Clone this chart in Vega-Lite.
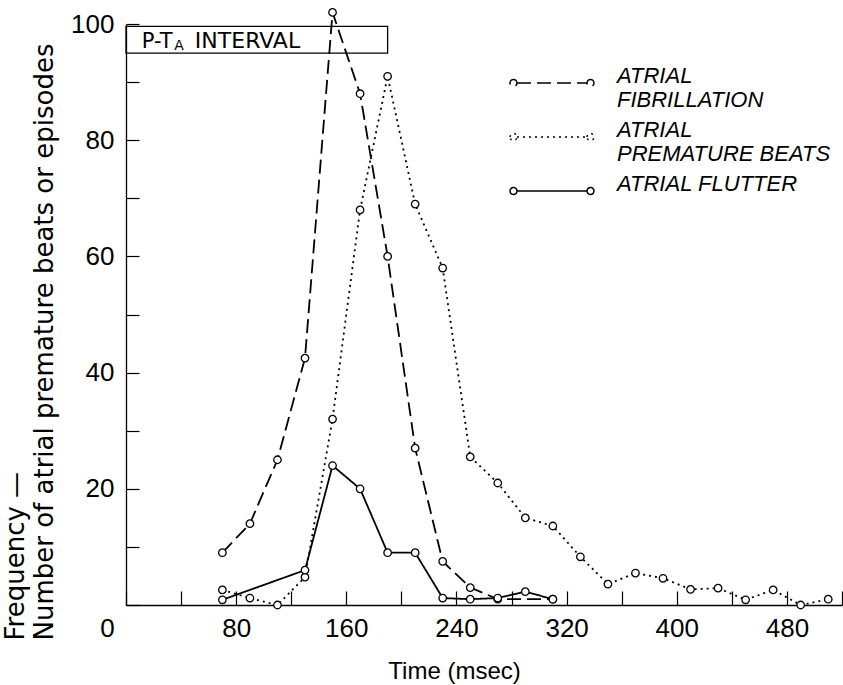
{
  "$schema": "https://vega.github.io/schema/vega-lite/v6.json",
  "width": 716,
  "height": 581,
  "autosize": {"type": "none"},
  "padding": {"left": 126, "top": 24, "right": 1, "bottom": 80},
  "background": "white",
  "config": {
    "view": {"stroke": null},
    "font": "Liberation Sans",
    "axisX": {
      "grid": false,
      "tickSize": -14,
      "tickColor": "black",
      "tickWidth": 1.2,
      "domainColor": "black",
      "domainWidth": 1.3,
      "labelFont": "Liberation Sans",
      "labelFontSize": 26,
      "labelColor": "black",
      "labelPadding": 24,
      "labelFlush": false,
      "labelOverlap": false,
      "titleFont": "Liberation Sans",
      "titleFontSize": 24,
      "titleFontWeight": "normal",
      "titleColor": "black",
      "titleX": 328,
      "titleY": 73,
      "titleBaseline": "alphabetic"
    },
    "axisY": {
      "grid": false,
      "tickSize": -13,
      "tickColor": "black",
      "tickWidth": 1.2,
      "domainColor": "black",
      "domainWidth": 1.3,
      "labelFont": "Liberation Sans",
      "labelFontSize": 26,
      "labelColor": "black",
      "labelPadding": 25,
      "labelFlush": false,
      "labelOverlap": false,
      "titleFont": "DejaVu Sans",
      "titleFontSize": 26,
      "titleFontWeight": "normal",
      "titleColor": "black",
      "titleLineHeight": 29,
      "titleAngle": -90,
      "titleAlign": "left",
      "titleBaseline": "top",
      "titleX": -124,
      "titleY": 616
    }
  },
  "datasets": {
    "curves": [
      {"series": "ATRIAL FIBRILLATION", "t": 70, "n": 9},
      {"series": "ATRIAL FIBRILLATION", "t": 90, "n": 14},
      {"series": "ATRIAL FIBRILLATION", "t": 110, "n": 25},
      {"series": "ATRIAL FIBRILLATION", "t": 130, "n": 42.5},
      {"series": "ATRIAL FIBRILLATION", "t": 150, "n": 102},
      {"series": "ATRIAL FIBRILLATION", "t": 170, "n": 88},
      {"series": "ATRIAL FIBRILLATION", "t": 190, "n": 60},
      {"series": "ATRIAL FIBRILLATION", "t": 210, "n": 27},
      {"series": "ATRIAL FIBRILLATION", "t": 230, "n": 7.5},
      {"series": "ATRIAL FIBRILLATION", "t": 250, "n": 3},
      {"series": "ATRIAL FIBRILLATION", "t": 270, "n": 1},
      {"series": "ATRIAL FIBRILLATION", "t": 310, "n": 1},
      {"series": "ATRIAL PREMATURE BEATS", "t": 70, "n": 2.6},
      {"series": "ATRIAL PREMATURE BEATS", "t": 90, "n": 1.2},
      {"series": "ATRIAL PREMATURE BEATS", "t": 110, "n": 0},
      {"series": "ATRIAL PREMATURE BEATS", "t": 130, "n": 4.8},
      {"series": "ATRIAL PREMATURE BEATS", "t": 150, "n": 32},
      {"series": "ATRIAL PREMATURE BEATS", "t": 170, "n": 68},
      {"series": "ATRIAL PREMATURE BEATS", "t": 190, "n": 91},
      {"series": "ATRIAL PREMATURE BEATS", "t": 210, "n": 69},
      {"series": "ATRIAL PREMATURE BEATS", "t": 230, "n": 58},
      {"series": "ATRIAL PREMATURE BEATS", "t": 250, "n": 25.5},
      {"series": "ATRIAL PREMATURE BEATS", "t": 270, "n": 21},
      {"series": "ATRIAL PREMATURE BEATS", "t": 290, "n": 15},
      {"series": "ATRIAL PREMATURE BEATS", "t": 310, "n": 13.6},
      {"series": "ATRIAL PREMATURE BEATS", "t": 330, "n": 8.3},
      {"series": "ATRIAL PREMATURE BEATS", "t": 350, "n": 3.6},
      {"series": "ATRIAL PREMATURE BEATS", "t": 370, "n": 5.5},
      {"series": "ATRIAL PREMATURE BEATS", "t": 390, "n": 4.6},
      {"series": "ATRIAL PREMATURE BEATS", "t": 410, "n": 2.7},
      {"series": "ATRIAL PREMATURE BEATS", "t": 430, "n": 2.9},
      {"series": "ATRIAL PREMATURE BEATS", "t": 450, "n": 0.9},
      {"series": "ATRIAL PREMATURE BEATS", "t": 470, "n": 2.6},
      {"series": "ATRIAL PREMATURE BEATS", "t": 490, "n": 0},
      {"series": "ATRIAL PREMATURE BEATS", "t": 510, "n": 1},
      {"series": "ATRIAL FLUTTER", "t": 70, "n": 0.9},
      {"series": "ATRIAL FLUTTER", "t": 130, "n": 6},
      {"series": "ATRIAL FLUTTER", "t": 150, "n": 24},
      {"series": "ATRIAL FLUTTER", "t": 170, "n": 20},
      {"series": "ATRIAL FLUTTER", "t": 190, "n": 9},
      {"series": "ATRIAL FLUTTER", "t": 210, "n": 9},
      {"series": "ATRIAL FLUTTER", "t": 230, "n": 1.2},
      {"series": "ATRIAL FLUTTER", "t": 250, "n": 1},
      {"series": "ATRIAL FLUTTER", "t": 270, "n": 1.2},
      {"series": "ATRIAL FLUTTER", "t": 290, "n": 2.3},
      {"series": "ATRIAL FLUTTER", "t": 310, "n": 1}
    ],
    "annotation": [
      {"main": "P-T", "sub": "A", "rest": "INTERVAL"}
    ]
  },
  "layer": [
    {
      "data": {"name": "curves"},
      "mark": {"type": "line", "color": "black", "strokeWidth": 1.8},
      "encoding": {
        "x": {
          "field": "t",
          "type": "quantitative",
          "scale": {"domain": [0, 520], "nice": false, "zero": false},
          "axis": {
            "title": "Time (msec)",
            "values": [0, 40, 80, 120, 160, 200, 240, 280, 320, 360, 400, 440, 480, 520],
            "labelExpr": "datum.value % 80 == 0 && datum.value < 520 ? datum.label : ''",
            "labelOffset": {"condition": {"test": "datum.value === 0", "value": -19}, "value": 0}
          }
        },
        "y": {
          "field": "n",
          "type": "quantitative",
          "scale": {"domain": [0, 100], "nice": false},
          "axis": {
            "title": ["Frequency —", "Number of atrial premature beats or episodes"],
            "values": [0, 10, 20, 30, 40, 50, 60, 70, 80, 90, 100],
            "labelExpr": "datum.value % 20 == 0 && datum.value > 0 ? datum.label : ''"
          }
        },
        "strokeDash": {
          "field": "series",
          "type": "nominal",
          "scale": {
            "domain": ["ATRIAL FIBRILLATION", "ATRIAL PREMATURE BEATS", "ATRIAL FLUTTER"],
            "range": [[14, 6], [2, 4], [1, 0]]
          },
          "legend": {
            "orient": "none",
            "legendX": 411,
            "legendY": 44,
            "title": null,
            "symbolType": "M -3 0 A 0.25 0.25 0 1 1 -2.5 0 A 0.25 0.25 0 1 1 -3 0 Z M -2.5 0 L 2.5 0 M 2.5 0 A 0.25 0.25 0 1 1 3 0 A 0.25 0.25 0 1 1 2.5 0 Z",
            "symbolSize": 784,
            "symbolStrokeColor": "black",
            "symbolStrokeWidth": 1.5,
            "symbolFillColor": "transparent",
            "labelFont": "Liberation Sans",
            "labelFontStyle": "italic",
            "labelFontSize": 22,
            "labelLineHeight": 27,
            "labelBaseline": "alphabetic",
            "labelColor": "black",
            "labelOffset": 50,
            "labelLimit": 400,
            "rowPadding": 8,
            "labelExpr": "datum.label == 'ATRIAL FLUTTER' ? datum.label : ['ATRIAL', substring(datum.label, 7)]"
          }
        }
      }
    },
    {
      "data": {"name": "curves"},
      "mark": {"type": "point", "shape": "circle", "filled": true, "fill": "white", "stroke": "black", "strokeWidth": 1.3, "size": 56, "opacity": 1},
      "encoding": {
        "x": {"field": "t", "type": "quantitative"},
        "y": {"field": "n", "type": "quantitative"}
      }
    },
    {
      "data": {"name": "annotation"},
      "mark": {"type": "rect", "filled": false, "stroke": "black", "strokeWidth": 1.3},
      "encoding": {
        "x": {"datum": 0, "type": "quantitative"},
        "x2": {"datum": 190},
        "y": {"datum": 95, "type": "quantitative"},
        "y2": {"datum": 99.6}
      }
    },
    {
      "data": {"name": "annotation"},
      "mark": {"type": "text", "align": "left", "baseline": "alphabetic", "font": "DejaVu Sans", "fontSize": 21, "fill": "black"},
      "encoding": {
        "x": {"datum": 11.5, "type": "quantitative"},
        "y": {"datum": 95.9, "type": "quantitative"},
        "text": {"field": "main", "type": "nominal"}
      }
    },
    {
      "data": {"name": "annotation"},
      "mark": {"type": "text", "align": "left", "baseline": "alphabetic", "font": "DejaVu Sans", "fontSize": 14, "fill": "black"},
      "encoding": {
        "x": {"datum": 35, "type": "quantitative"},
        "y": {"datum": 95.5, "type": "quantitative"},
        "text": {"field": "sub", "type": "nominal"}
      }
    },
    {
      "data": {"name": "annotation"},
      "mark": {"type": "text", "align": "left", "baseline": "alphabetic", "font": "DejaVu Sans", "fontSize": 22, "fill": "black"},
      "encoding": {
        "x": {"datum": 50, "type": "quantitative"},
        "y": {"datum": 95.9, "type": "quantitative"},
        "text": {"field": "rest", "type": "nominal"}
      }
    }
  ]
}
